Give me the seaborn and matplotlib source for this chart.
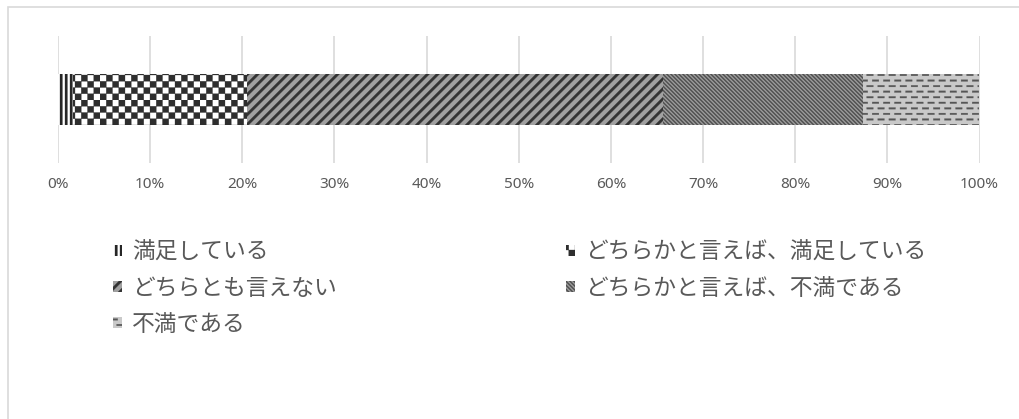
import numpy as np
import matplotlib
matplotlib.use("Agg")
import matplotlib.pyplot as plt
import matplotlib.hatch as mhatch
from matplotlib.path import Path
from matplotlib.patches import Rectangle
import seaborn as sns

# ---- data -------------------------------------------------------------
categories = [
    "満足している",
    "どちらかと言えば、満足している",
    "どちらとも言えない",
    "どちらかと言えば、不満である",
    "不満である",
]
shares = [1.6, 18.9, 45.1, 21.8, 12.6]          # percent of respondents
tick_values = [0, 10, 20, 30, 40, 50, 60, 70, 80, 90, 100]
tick_labels = [f"{v}%" for v in tick_values]
row_label = "回答"

# ---- fill patterns (one hatch tile = 1 inch) --------------------------
class PolyHatch(mhatch.HatchPatternBase):
    char = None

    def __init__(self, hatch, density):
        self.polys = self.build() if (self.char in hatch) else []
        self.num_vertices = sum(len(p) + 1 for p in self.polys)

    def build(self):
        return []

    def set_vertices_and_codes(self, vertices, codes):
        i = 0
        for poly in self.polys:
            n = len(poly)
            vertices[i:i + n] = poly
            vertices[i + n] = poly[0]
            codes[i] = Path.MOVETO
            codes[i + 1:i + n] = Path.LINETO
            codes[i + n] = Path.CLOSEPOLY
            i += n + 1


class VerticalStripes(PolyHatch):
    char = "|"

    def build(self):
        n, w = 20, 0.024
        return [[(k / n, -0.05), (k / n + w, -0.05), (k / n + w, 1.05), (k / n, 1.05)]
                for k in range(n)]


class Checker(PolyHatch):
    char = "o"

    def build(self):
        n = 16
        s = 1.0 / n
        return [[(i * s, j * s), ((i + 1) * s, j * s), ((i + 1) * s, (j + 1) * s), (i * s, (j + 1) * s)]
                for i in range(n) for j in range(n) if (i + j) % 2 == 0]


class WideDiagonal(PolyHatch):
    char = "/"

    def build(self):
        n, w, y0, y1 = 10, 0.036, -0.05, 1.05
        polys = []
        for k in range(-n - 1, 2 * n + 1):
            c = k / n
            polys.append([(c + y0, y0), (c + w + y0, y0), (c + w + y1, y1), (c + y1, y1)])
        return polys


class FineDiagonal(PolyHatch):
    char = "\\"

    def build(self):
        n, w, y0, y1 = 25, 0.015, -0.05, 1.05
        polys = []
        for k in range(-2, 2 * n + 3):
            c = k / n
            polys.append([(c - y0, y0), (c + w - y0, y0), (c + w - y1, y1), (c - y1, y1)])
        return polys


class Dashes(PolyHatch):
    char = "-"

    def build(self):
        rows, cols, length, thick = 18, 9, 0.066, 0.016
        polys = []
        for i in range(rows):
            yc = (i + 0.5) / rows
            off = 0.5 if i % 2 else 0.0
            for j in range(-1, cols + 1):
                x0 = (j + off) / cols
                polys.append([(x0, yc - thick / 2), (x0 + length, yc - thick / 2),
                              (x0 + length, yc + thick / 2), (x0, yc + thick / 2)])
        return polys


mhatch._hatch_types[:] = [VerticalStripes, Checker, WideDiagonal, FineDiagonal, Dashes]

# ---- styling ---------------------------------------------------------
sns.set_theme(style="white")
plt.rcParams["font.family"] = ["Noto Sans CJK JP", "DejaVu Sans"]
plt.rcParams["hatch.linewidth"] = 0.2

hatches = ["|", "o", "/", "\\", "-"]
face_colors = ["#ffffff", "#ffffff", "#a0a0a0", "#9c9c9c", "#c9c9c9"]
pattern_colors = ["#262626", "#2e2e2e", "#333333", "#4a4a4a", "#555555"]

grid_color = "#d9d9d9"
text_color = "#595959"

fig = plt.figure(figsize=(10.19, 4.19), dpi=100)
ax = fig.add_axes([58 / 1019, 1 - 163 / 419, (979.5 - 58) / 1019, 127 / 419])

starts = np.concatenate([[0.0], np.cumsum(shares)[:-1]])
for cat, share, start, h, fc, pc in zip(categories, shares, starts, hatches,
                                         face_colors, pattern_colors):
    sns.barplot(x=[share], y=[row_label], left=start, orient="h", width=0.394,
                color=fc, saturation=1, ax=ax, label=cat)
    for patch in ax.containers[-1]:
        patch.set_hatch(h)
        patch.set_edgecolor(pc)
        patch.set_linewidth(0)

ax.set_xlim(0, 100)
ax.set_ylim(0.5, -0.5)
ax.set_xticks(tick_values)
ax.set_xticklabels(tick_labels, fontfamily="Noto Sans", fontsize=11, color=text_color)
ax.set_yticks([])
ax.set_xlabel("")
ax.set_ylabel("")
ax.grid(axis="x", color=grid_color, linewidth=1.2)
ax.set_axisbelow(True)
ax.tick_params(axis="x", length=0, pad=10)
for side in ax.spines.values():
    side.set_visible(False)

# ---- legend: two columns filled row by row ---------------------------
handles = [c.patches[0] for c in ax.containers]
leg_kw = dict(frameon=False, handlelength=0.38, handleheight=0.38, handletextpad=0.45,
              labelspacing=0.56, borderpad=0, borderaxespad=0, loc="upper left",
              bbox_transform=fig.transFigure, prop={"size": 16.4}, labelcolor=text_color)
left_idx, right_idx = [0, 2, 4], [1, 3]
leg1 = ax.legend([handles[i] for i in left_idx], [categories[i] for i in left_idx],
                 bbox_to_anchor=(113 / 1019, 1 - 241 / 419), **leg_kw)
ax.add_artist(leg1)
ax.legend([handles[i] for i in right_idx], [categories[i] for i in right_idx],
          bbox_to_anchor=(566 / 1019, 1 - 241 / 419), **leg_kw)

# chart-area border (top and left edges)
fig.add_artist(Rectangle((7.5 / 1019, -0.2), 1.5, 1.2 - 7.5 / 419, transform=fig.transFigure,
                         fill=False, edgecolor=grid_color, linewidth=1.2))

fig.savefig("out.png", dpi=100)
